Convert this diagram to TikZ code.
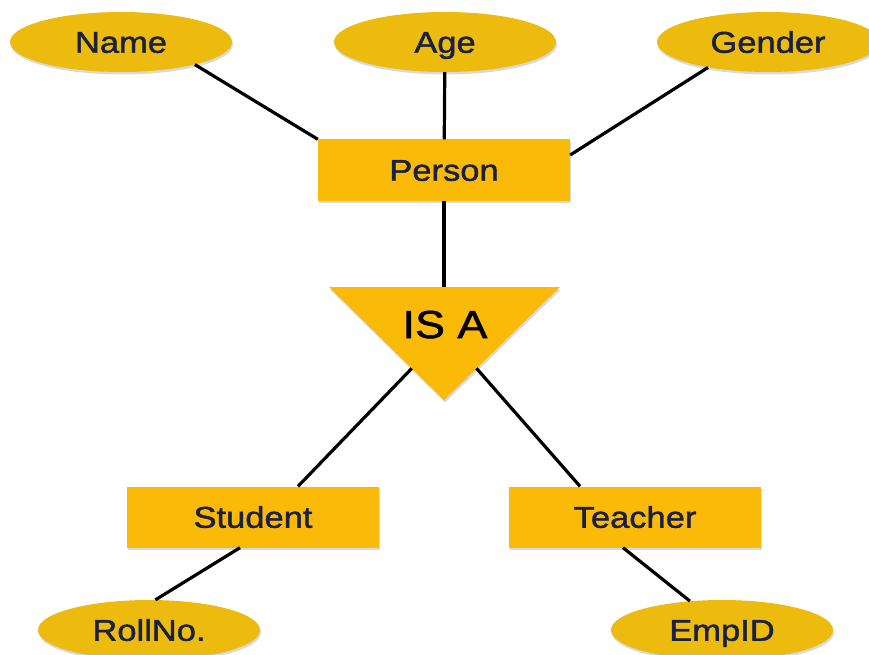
\documentclass[tikz,border=0pt]{standalone}
\usepackage{fontspec}
\setmainfont[FakeStretch=1.15, FakeBold=1.5]{Liberation Sans}
\definecolor{erattr}{RGB}{237,187,14}
\definecolor{erentity}{RGB}{252,186,8}
\definecolor{ertext}{RGB}{25,32,64}
\usetikzlibrary{shapes,shadows,calc}

\begin{document}
\begin{tikzpicture}[x=1pt, y=-1pt,
    attr/.style={ellipse, fill=erattr, minimum width=222pt, minimum height=60pt, inner sep=0pt,
        text=ertext, font=\fontsize{30}{36}\selectfont, text height=21.5pt, text depth=0pt,
        drop shadow={shadow xshift=1pt, shadow yshift=-2.5pt, opacity=0.3}},
    entity/.style={rectangle, fill=erentity, minimum width=252pt, minimum height=61pt, inner sep=0pt,
        text=ertext, font=\fontsize{30}{36}\selectfont, text height=21.5pt, text depth=0pt,
        drop shadow={shadow xshift=1pt, shadow yshift=-2.5pt, opacity=0.3}},
    link/.style={line width=3.2pt, black}]
    \useasboundingbox (0,0) rectangle (869,655);

    % Attributes of Person
    \node[attr] (name) at (121,42) {Name};
    \node[attr] (age) at (445,42) {Age};
    \node[attr] (gender) at (768,42) {Gender};

    % Entities
    \node[entity] (person) at (444,170) {Person};
    \node[entity] (student) at (253,517) {Student};
    \node[entity] (teacher) at (635,517) {Teacher};

    % Sub-entity attributes
    \node[attr] (rollno) at (149,630) {RollNo.};
    \node[attr] (empid) at (722,630) {EmpID};

    % IS A triangle
    \coordinate (isaL) at (329,287);
    \coordinate (isaR) at (560,287);
    \coordinate (isaB) at (444,400);
    \coordinate (isaT) at (444,287);
    \coordinate (isaSL) at ($(isaL)!0.72!(isaB)$);
    \coordinate (isaSR) at ($(isaR)!0.72!(isaB)$);
    \fill[erentity, drop shadow={shadow xshift=1pt, shadow yshift=-2.5pt, opacity=0.3}]
        (isaL) -- (isaR) -- (isaB) -- cycle;
    \node[font=\fontsize{39}{44}\selectfont, text height=28pt, text depth=0pt] (isa) at (445,324) {IS A};

    % Connectors
    \draw[link] (name.-17) -- (person.north west);
    \draw[link] (age) -- (person);
    \draw[link] (gender.-157) -- ([yshift=15pt]person.east);
    \draw[link] (person) -- (isaT);
    \draw[link] (isaSL) -- ([xshift=45pt]student.north);
    \draw[link] (isaSR) -- ([xshift=-55pt]teacher.north);
    \draw[link] ([xshift=-13pt]student.south) -- (rollno.78);
    \draw[link] ([xshift=-12pt]teacher.south) -- (empid.138);
\end{tikzpicture}
\end{document}
